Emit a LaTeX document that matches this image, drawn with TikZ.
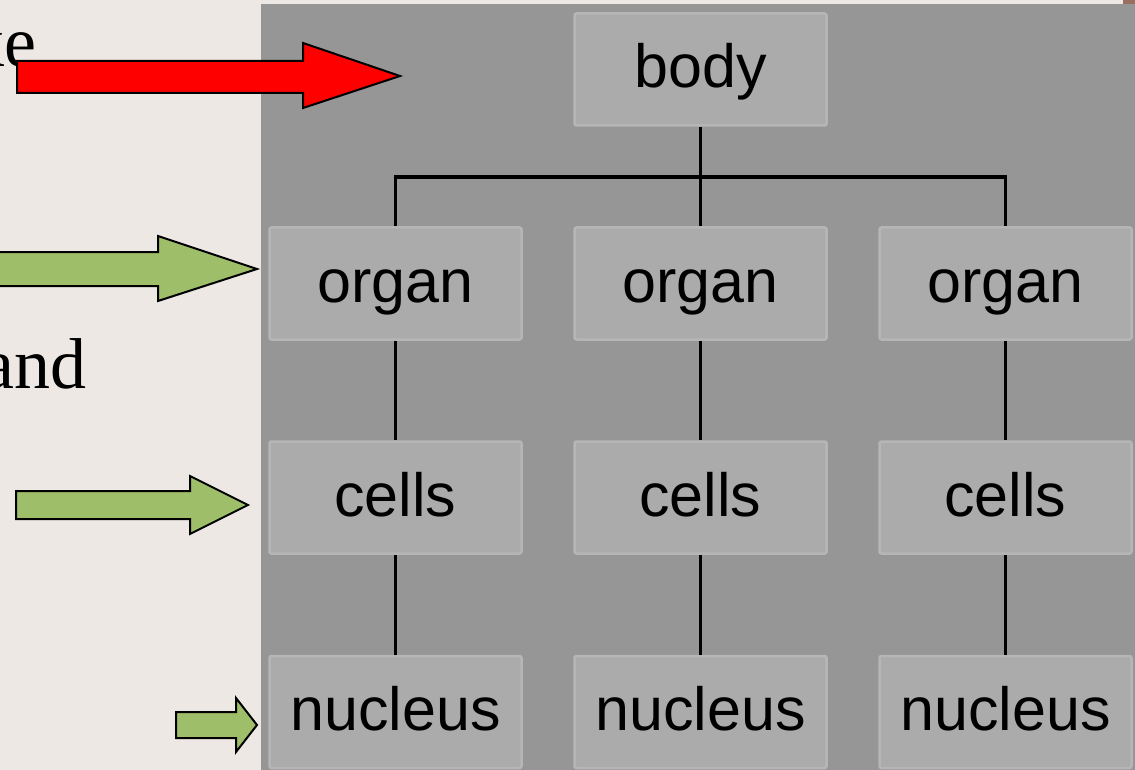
\documentclass[tikz,border=0pt]{standalone}
\usepackage{fontspec}
\setmainfont{Liberation Serif}
\newfontfamily\labelfont{Liberation Sans}
\definecolor{bgcol}{HTML}{EDE8E4}
\definecolor{panelcol}{HTML}{969696}
\definecolor{boxfill}{HTML}{ABABAB}
\definecolor{boxline}{HTML}{B6B6B6}
\definecolor{greenarrow}{HTML}{9FBE69}
\definecolor{redarrow}{HTML}{FF0000}
\definecolor{browncol}{HTML}{9B6F5F}
\tikzset{
  levelbox/.style={draw=boxline, fill=boxfill, line width=2.5pt, rounded corners=2pt,
    minimum width=252pt, minimum height=112pt, inner sep=0pt,
    text height=44pt, text depth=7pt,
    font=\labelfont\fontsize{61}{61}\selectfont},
  treeline/.style={line width=3.5pt, black},
  blockarrow/.style={draw=black, line width=2pt, line join=miter},
  sidetext/.style={inner sep=0pt, font=\fontsize{72}{72}\selectfont}
}
\begin{document}
\begin{tikzpicture}[x=1pt,y=-1pt]
\useasboundingbox (0,0) rectangle (1135,770);
\clip (0,0) rectangle (1135,770);
\fill[bgcol] (0,0) rectangle (1135,770);
\fill[browncol] (1123,0) rectangle (1135,4);
\fill[panelcol] (261,4) rectangle (1135,770);

% side text (partly cut off at the left edge, as in the reference)
\node[sidetext, anchor=base east] (txtke) at (37,67) {ke};
\node[sidetext, anchor=base east] (txtand) at (87,388) {and};

% boxes
\node[levelbox] (body) at (700.5,69.5) {body};
\node[levelbox] (organA) at (395.5,283.5) {organ};
\node[levelbox] (organB) at (700.5,283.5) {organ};
\node[levelbox] (organC) at (1005.5,283.5) {organ};
\node[levelbox] (cellsA) at (395.5,497.5) {cells};
\node[levelbox] (cellsB) at (700.5,497.5) {cells};
\node[levelbox] (cellsC) at (1005.5,497.5) {cells};
\node[levelbox] (nucA) at (395.5,712) {nucleus};
\node[levelbox] (nucB) at (700.5,712) {nucleus};
\node[levelbox] (nucC) at (1005.5,712) {nucleus};

% tree connectors
\coordinate (junction) at (700.5,177);
\draw[treeline] (body.south) -- (junction);
\draw[treeline, line join=miter] (organA.north) |- (junction) -| (organC.north);
\draw[treeline] (junction) -- (organB.north);
\draw[treeline] (organA.south) -- (cellsA.north);
\draw[treeline] (organB.south) -- (cellsB.north);
\draw[treeline] (organC.south) -- (cellsC.north);
\draw[treeline] (cellsA.south) -- (nucA.north);
\draw[treeline] (cellsB.south) -- (nucB.north);
\draw[treeline] (cellsC.south) -- (nucC.north);

% block arrows
\draw[blockarrow, fill=redarrow] (17,61) -- (303,61) -- (303,43) -- (400,76) -- (303,108) -- (303,93) -- (17,93) -- cycle;
\draw[blockarrow, fill=greenarrow] (-5,252) -- (158,252) -- (158,236) -- (257,269) -- (158,301) -- (158,286) -- (-5,286) -- cycle;
\draw[blockarrow, fill=greenarrow] (16,491) -- (190,491) -- (190,476) -- (248,505) -- (190,534) -- (190,519) -- (16,519) -- cycle;
\draw[blockarrow, fill=greenarrow] (176,712) -- (236,712) -- (236,698) -- (257,725) -- (236,752) -- (236,738) -- (176,738) -- cycle;
\end{tikzpicture}
\end{document}
